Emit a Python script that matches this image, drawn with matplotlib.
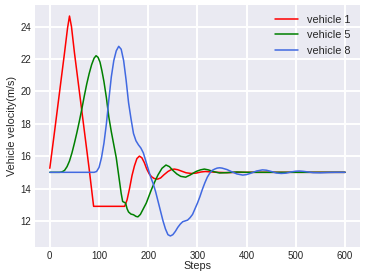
import matplotlib
matplotlib.use('Agg')
import matplotlib.pyplot as plt

# vehicle 1
steps_1 = [0, 10, 20, 30, 36, 40, 44, 50, 60, 70, 80, 89, 100, 120, 140, 152,
           157, 162, 167, 172, 177, 182, 187, 192, 197, 202, 207, 212, 219, 225,
           232, 240, 247, 253, 260, 268, 277, 287, 297, 307, 316, 325, 340, 360, 380, 600]
vel_1 = [15.25, 17.6, 20.0, 22.4, 23.9, 24.65, 24.0, 22.4, 20.0, 17.6, 15.2, 12.9, 12.9, 12.9, 12.9, 12.9,
         13.3, 14.0, 14.8, 15.4, 15.85, 16.0, 15.9, 15.6, 15.2, 14.9, 14.72, 14.62, 14.58, 14.65,
         14.85, 15.05, 15.17, 15.2, 15.16, 15.07, 14.97, 14.93, 14.95, 15.02, 15.05, 15.03, 15.0, 14.98, 15.0, 15.0]

# vehicle 5
steps_5 = [0, 20, 25, 30, 35, 40, 45, 50, 55, 60, 65, 70, 75, 80, 85, 90, 94, 98,
           102, 106, 110, 115, 120, 125, 130, 135, 140, 145, 148, 151, 154, 157, 160,
           165, 170, 175, 179, 184, 190, 196, 201, 206, 213, 220, 228, 236, 243, 250,
           258, 266, 276, 286, 297, 306, 314, 322, 332, 345, 360, 380, 400, 600]
vel_5 = [15.0, 15.0, 15.03, 15.12, 15.35, 15.7, 16.2, 16.8, 17.45, 18.15, 18.9, 19.7, 20.45, 21.1, 21.65, 22.05, 22.2, 22.1,
         21.8, 21.25, 20.6, 19.6, 18.4, 17.5, 16.7, 15.9, 14.8, 13.7, 13.2, 13.15, 13.1, 12.75, 12.55,
         12.42, 12.38, 12.28, 12.25, 12.4, 12.75, 13.1, 13.5, 13.9, 14.4, 14.85, 15.25, 15.45, 15.35, 15.12,
         14.9, 14.75, 14.7, 14.85, 15.05, 15.15, 15.2, 15.15, 15.05, 14.96, 14.98, 15.02, 15.0, 15.0]

# vehicle 8
steps_8 = [0, 90, 95, 100, 105, 110, 115, 120, 125, 130, 135, 140, 145, 150, 155, 160,
           165, 170, 175, 180, 185, 190, 195, 200, 205, 210, 215, 220, 225, 230, 235, 240,
           245, 250, 255, 260, 265, 270, 275, 280, 285, 290, 295, 300, 305, 310, 315, 320,
           325, 330, 335, 340, 345, 350, 360, 370, 380, 392, 400, 410, 420, 432, 440, 450,
           460, 470, 480, 490, 500, 507, 515, 525, 535, 550, 565, 580, 600]
vel_8 = [15.0, 15.0, 15.05, 15.3, 15.9, 16.8, 18.0, 19.5, 20.9, 21.9, 22.5, 22.78, 22.6, 21.9, 20.7, 19.3,
         18.3, 17.4, 16.95, 16.7, 16.5, 16.2, 15.7, 15.2, 14.7, 14.3, 13.8, 13.2, 12.6, 12.0, 11.5, 11.15,
         11.07, 11.15, 11.35, 11.6, 11.8, 11.95, 12.0, 12.05, 12.2, 12.4, 12.75, 13.1, 13.5, 13.95, 14.35, 14.7,
         14.95, 15.12, 15.2, 15.26, 15.28, 15.26, 15.17, 15.03, 14.9, 14.83, 14.86, 14.96, 15.08, 15.15, 15.13, 15.05,
         14.96, 14.93, 14.95, 15.02, 15.07, 15.08, 15.06, 15.02, 14.98, 14.97, 14.99, 15.0, 15.0]

plt.style.use('seaborn-v0_8-darkgrid')
plt.rcParams['font.family'] = ['Liberation Sans', 'DejaVu Sans']

fig = plt.figure(figsize=(3.65, 2.8), dpi=100)
ax = fig.add_axes([0.096, 0.118, 0.890, 0.864])

ax.plot(steps_1, vel_1, color='red', lw=1.1, label='vehicle 1')
ax.plot(steps_5, vel_5, color='green', lw=1.1, label='vehicle 5')
ax.plot(steps_8, vel_8, color='royalblue', lw=1.1, label='vehicle 8')

ax.set_xticks([0, 100, 200, 300, 400, 500, 600])
ax.set_yticks([12, 14, 16, 18, 20, 22, 24])
ax.tick_params(labelsize=7, pad=3)
ax.grid(True, color='white', lw=1.4)
ax.set_xlabel('Steps', fontsize=7.8, labelpad=0)
ax.set_ylabel('Vehicle velocity(m/s)', fontsize=7.8, labelpad=2)
ax.legend(loc='upper right', fontsize=7.8, frameon=False, handlelength=2.1)

fig.savefig('out.png', dpi=100)
